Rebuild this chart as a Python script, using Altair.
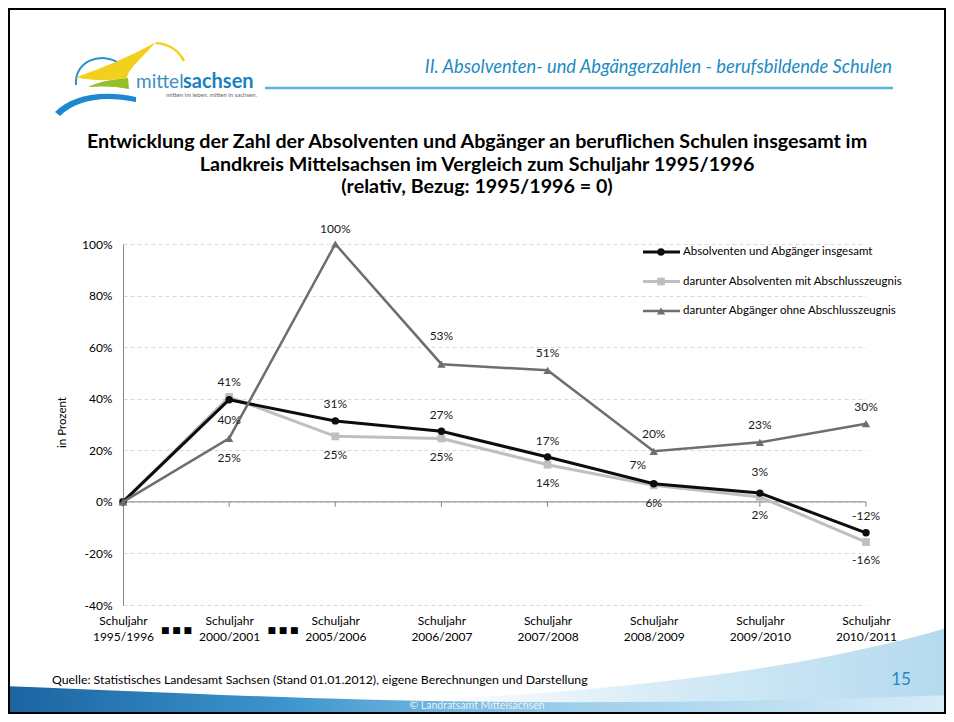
import altair as alt
import pandas as pd

# ---------------- data ----------------
YEARS = ["1995/1996", "2000/2001", "2005/2006", "2006/2007",
         "2007/2008", "2008/2009", "2009/2010", "2010/2011"]
SERIES = ["Absolventen und Abgänger insgesamt",
          "darunter Absolventen mit Abschlusszeugnis",
          "darunter Abgänger ohne Abschlusszeugnis"]
TOTAL = [0, 39.6, 31.4, 27.4, 17.4, 7.0, 3.4, -12.0]
MIT = [0, 40.7, 25.4, 24.6, 14.4, 6.4, 1.9, -15.6]
OHNE = [0, 24.6, 100.0, 53.4, 51.0, 19.6, 23.1, 30.3]
Y_TICKS = [-40, -20, 0, 20, 40, 60, 80, 100]

# label placement (dx, dy) per point; None = no label
PLACE = {
    SERIES[0]: [None, (0, 20), (0, -17), (0, -16), (0, -16), (-16, -19), (0, -21), (0, -17)],
    SERIES[1]: [None, (0, -15), (0, 19), (0, 19), (0, 18), (0, 18), (0, 18), (0, 18)],
    SERIES[2]: [None, (0, 20), (0, -15), (0, -28), (0, -17), (0, -17), (0, -17), (0, -17)],
}

STYLE = {
    SERIES[0]: dict(color="#0d0d0d", width=3, shape="circle", size=55),
    SERIES[1]: dict(color="#bfbfbf", width=3, shape="square", size=60),
    SERIES[2]: dict(color="#6e6e6e", width=2.5, shape="triangle-up", size=70),
}

rows = []
for s, vals in zip(SERIES, [TOTAL, MIT, OHNE]):
    for i, (yr, v) in enumerate(zip(YEARS, vals)):
        p = PLACE[s][i]
        rows.append(dict(year=yr, series=s, value=v,
                         has=p is not None,
                         ldx=p[0] if p else 0, ldy=p[1] if p else 0))
df = pd.DataFrame(rows)
one = pd.DataFrame({"a": [0]})
years_df = pd.DataFrame({"year": YEARS})

FONT = "Lato"
BLUE = "#1e8bc3"

# page -> plot coordinates
OX, OY = 123, 244
W, H = 743, 361
def px(x): return x - OX
def py(y): return y - OY

xenc = alt.X("year:N", sort=YEARS, scale=alt.Scale(type="point", padding=0),
             axis=alt.Axis(labelExpr="['Schuljahr', datum.value]", labelAngle=0,
                           labelFont=FONT, labelFontSize=12, labelColor="#000",
                           labelLineHeight=16, labelPadding=10, domain=False,
                           ticks=False, grid=False, title=None))
yenc = alt.Y("value:Q", scale=alt.Scale(domain=[-40, 100], nice=False, zero=False),
             axis=alt.Axis(values=Y_TICKS, labelExpr="datum.value + '%'",
                           labelFont=FONT, labelFontSize=12, labelColor="#000",
                           labelPadding=11, ticks=False, grid=True,
                           gridColor="#d9d9d9", gridDash=[4, 3], gridWidth=1,
                           domainColor="#868686", domainWidth=1,
                           title="in Prozent", titleFont=FONT, titleFontSize=11.5,
                           titleFontWeight="normal", titleColor="#000",
                           titleAngle=-90, titleX=px(62), titleY=py(422),
                           titleAlign="center", titleBaseline="middle"))

base = alt.Chart(df)
layers = []

# axis frame (invisible marks establish scales) + zero line + ticks
layers.append(base.mark_point(opacity=0).encode(x=xenc, y=yenc))
layers.append(alt.Chart(one).mark_rule(color="#868686", strokeWidth=1).encode(y=alt.datum(0)))
layers.append(alt.Chart(years_df).mark_point(shape="M0,0L0,5", size=4, filled=False,
                                             color="#868686", strokeWidth=1, opacity=1)
              .encode(x=alt.X("year:N", sort=YEARS), y=alt.datum(0)))

# series lines + markers
for s in [SERIES[1], SERIES[0], SERIES[2]]:
    st = STYLE[s]
    sub = base.transform_filter(alt.datum.series == s)
    layers.append(sub.mark_line(color=st["color"], strokeWidth=st["width"])
                  .encode(x=alt.X("year:N", sort=YEARS), y="value:Q"))
    layers.append(sub.mark_point(shape=st["shape"], size=st["size"], filled=True,
                                 color=st["color"], opacity=1, strokeWidth=0)
                  .encode(x=alt.X("year:N", sort=YEARS), y="value:Q"))

# data labels
combos = sorted(set((r["ldx"], r["ldy"]) for r in rows if r["has"]))
for dx, dy in combos:
    layers.append(
        base.transform_filter(f"datum.has && datum.ldx == {dx} && datum.ldy == {dy}")
        .transform_calculate(lab="round(datum.value) + '%'")
        .mark_text(font=FONT, fontSize=12, color="#1a1a1a", dx=dx, dy=dy,
                   align="center", baseline="middle")
        .encode(x=alt.X("year:N", sort=YEARS), y="value:Q", text="lab:N"))

# legend
LEG_Y = [252, 281.5, 311]
for i, s in enumerate(SERIES):
    st = STYLE[s]
    yy = py(LEG_Y[i])
    layers.append(alt.Chart(one).mark_rule(color=st["color"], strokeWidth=st["width"])
                  .encode(x=alt.value(px(643)), x2=alt.value(px(680)), y=alt.value(yy)))
    layers.append(alt.Chart(one).mark_point(shape=st["shape"], size=st["size"], filled=True,
                                            color=st["color"], opacity=1, strokeWidth=0)
                  .encode(x=alt.value(px(661)), y=alt.value(yy)))
    layers.append(alt.Chart(one).mark_text(text=s, font=FONT, fontSize=11.5, color="#000",
                                           align="left", baseline="middle")
                  .encode(x=alt.value(px(683)), y=alt.value(yy)))

# gap markers between first categories
for mx in [176.5, 283]:
    layers.append(alt.Chart(one).mark_text(text="■ ■ ■", font="DejaVu Sans", fontSize=9,
                                           color="#000", align="center", baseline="middle")
                  .encode(x=alt.value(px(mx)), y=alt.value(py(630))))

# ---------------- decorations ----------------
def txt(text, x, y, **kw):
    return alt.Chart(one).mark_text(text=text, **kw).encode(
        x=alt.value(px(x)), y=alt.value(py(y)))

def shape(path, **kw):
    kw.setdefault("opacity", 1)
    return alt.Chart(one).mark_point(shape=path, size=4, **kw).encode(
        x=alt.value(px(0)), y=alt.value(py(0)))

title_lines = ["Entwicklung der Zahl der Absolventen und Abgänger an beruflichen Schulen insgesamt im",
               "Landkreis Mittelsachsen im Vergleich zum Schuljahr 1995/1996",
               "(relativ, Bezug: 1995/1996 = 0)"]
for i, t in enumerate(title_lines):
    layers.append(txt(t, 477, 142 + 22.5 * i, font=FONT, fontSize=19.7, fontWeight="bold",
                      color="#000", align="center", baseline="middle"))

layers.append(txt("II. Absolventen- und Abgängerzahlen - berufsbildende Schulen", 892, 68,
                  font=FONT, fontSize=18.3, fontStyle="italic", color=BLUE,
                  align="right", baseline="middle"))
layers.append(alt.Chart(one).mark_rule(color="#5ab3da", strokeWidth=2.5).encode(
    x=alt.value(px(265)), x2=alt.value(px(893)), y=alt.value(py(88))))

# logo
layers.append(shape("M55,112 C70,97 98,89 136,97 L136,102 C100,95 76,101 60,116 Z",
                    filled=True, color="#1c88cf", strokeWidth=0))
layers.append(shape("M76,85 C74,62 100,50 121,64", filled=False, color="#2a8fd0", strokeWidth=2))
layers.append(shape("M88,87 C100,81 115,79 128,78 L129,89 C115,86 100,86 88,87 Z",
                    filled=True, color="#95bf2a", strokeWidth=0))
layers.append(shape("M76,77 C95,71 130,57 156,42 C142,58 128,69 127,78 C110,81 90,81 76,77 Z",
                    filled=True, color="#f2d01e", strokeWidth=0))
layers.append(shape("M156,43 C169,44 179,51 184,61", filled=False, color="#f2d01e", strokeWidth=2.5))
layers.append(txt("mittel", 136, 82, font=FONT, fontSize=19, color="#3b8fc4",
                  align="left", baseline="middle"))
layers.append(txt("sachsen", 183, 82, font=FONT, fontSize=20, fontWeight="bold", color="#1a7fc0",
                  align="left", baseline="middle"))
layers.append(txt("mitten im leben. mitten in sachsen.", 257, 95, font=FONT, fontSize=6,
                  color="#666", align="right", baseline="middle"))

# footer
layers.append(shape("M420,700 C600,692 800,672 954,626 L954,722 L420,722 Z", filled=True,
                    strokeWidth=0,
                    color=alt.Gradient(gradient="linear", x1=0, x2=1, y1=0, y2=0,
                                       stops=[alt.GradientStop(color="#ffffff", offset=0),
                                              alt.GradientStop(color="#d3eaf6", offset=0.5),
                                              alt.GradientStop(color="#b3d9ee", offset=1)])))
layers.append(shape("M0,686 C120,690 260,698 430,701 C620,704 800,701 954,695 L954,722 L0,722 Z",
                    filled=True, strokeWidth=0,
                    color=alt.Gradient(gradient="linear", x1=0, x2=1, y1=0, y2=0,
                                       stops=[alt.GradientStop(color="#1a62a0", offset=0),
                                              alt.GradientStop(color="#3d95cd", offset=0.3),
                                              alt.GradientStop(color="#9fcfea", offset=0.6),
                                              alt.GradientStop(color="#d8edf8", offset=1)])))
layers.append(txt("© Landratsamt Mittelsachsen", 477, 706, font=FONT, fontSize=10.5,
                  color="#e6f2fa", align="center", baseline="middle"))
layers.append(txt("Quelle: Statistisches Landesamt Sachsen (Stand 01.01.2012), eigene Berechnungen und Darstellung",
                  52, 680, font=FONT, fontSize=12.3, color="#000", align="left", baseline="middle"))
layers.append(txt("15", 901, 680, font=FONT, fontSize=17, color=BLUE, align="center",
                  baseline="middle"))

# slide frame
layers.append(alt.Chart(one).mark_rect(filled=False, stroke="#000", strokeWidth=2).encode(
    x=alt.value(px(9)), x2=alt.value(px(945)), y=alt.value(py(9)), y2=alt.value(py(713))))

chart = alt.layer(*layers).properties(
    width=W, height=H,
    autosize=alt.AutoSizeParams(type="none"),
    padding={"left": 115, "top": 236, "right": 80, "bottom": 109},
    background="#ffffff",
).configure_view(stroke=None)

chart.save("out.html", embed_options={"renderer": "svg", "actions": False})
